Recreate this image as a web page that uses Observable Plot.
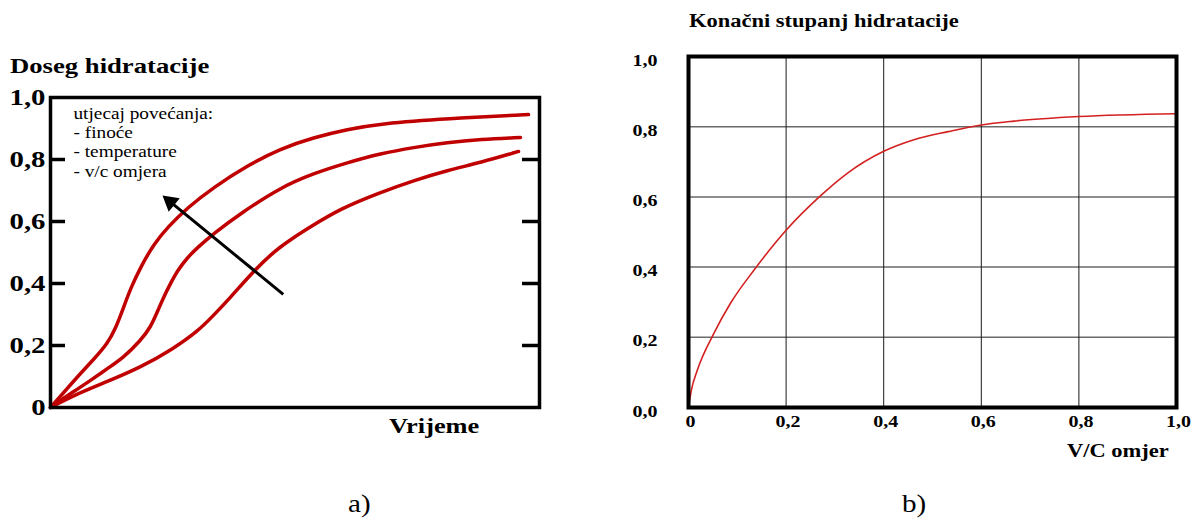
<!DOCTYPE html>
<html>
<head>
<meta charset="utf-8">
<script src="https://cdn.jsdelivr.net/npm/d3@7"></script>
<script src="https://cdn.jsdelivr.net/npm/@observablehq/plot@0.6"></script>
<style>
  html, body { margin: 0; padding: 0; background: #fff; }
  #root { position: relative; width: 1191px; height: 520px; overflow: hidden; }
  #root > svg, #root > div { position: absolute; top: 0; }
</style>
</head>
<body>
<div id="root"></div>
<script>
// ---------- chart a) : Doseg hidratacije vs Vrijeme ----------
const fastT = [0, 3.07, 6.13, 9.0, 11.66, 13.29, 14.72, 16.36, 18.4, 21.06, 23.93, 28.02, 33.33, 40.29, 47.03, 53.78, 60.74, 67.48, 81.19, 97.75];
const fastV = [0, 0.055, 0.11, 0.158, 0.206, 0.255, 0.313, 0.384, 0.452, 0.526, 0.581, 0.645, 0.71, 0.781, 0.835, 0.871, 0.897, 0.916, 0.932, 0.945];
const midT  = [0, 2.04, 5.11, 8.18, 11.66, 14.93, 18.4, 20.45, 21.88, 23.11, 24.54, 25.97, 28.02, 30.06, 33.33, 38.85, 47.03, 53.78, 60.74, 67.48, 74.23, 81.19, 87.93, 96.11];
const midV  = [0, 0.023, 0.055, 0.087, 0.126, 0.161, 0.216, 0.258, 0.31, 0.355, 0.40, 0.442, 0.484, 0.516, 0.561, 0.626, 0.71, 0.755, 0.79, 0.819, 0.839, 0.855, 0.865, 0.871];
const slowT = [0, 4.70, 11.66, 18.4, 25.15, 30.06, 33.33, 36.81, 40.9, 45.6, 49.69, 52.56, 59.3, 67.48, 74.23, 81.19, 87.93, 95.71];
const slowV = [0, 0.039, 0.084, 0.129, 0.19, 0.245, 0.297, 0.355, 0.429, 0.503, 0.548, 0.577, 0.642, 0.694, 0.732, 0.765, 0.79, 0.826];
const yTicksA = [0, 0.2, 0.4, 0.6, 0.8, 1.0];
const yTickLabelsA = ["0", "0,2", "0,4", "0,6", "0,8", "1,0"];
const innerTicksA = [0.2, 0.4, 0.6, 0.8];
const arrowTail = {t: 47.6, v: 0.365};
const arrowTip = {t: 22.9, v: 0.684};
const noteLinesA = ["utjecaj povećanja:", "- finoće", "- temperature", "- v/c omjera"];
const noteAt = {t: 4.7, v: 0.858};
const titleA = "Doseg hidratacije";
const xLabelA = "Vrijeme";

// ---------- chart b) : Konačni stupanj hidratacije vs V/C omjer ----------
const vcB  = [0, 0.006, 0.018, 0.052, 0.086, 0.134, 0.2, 0.268, 0.326, 0.4, 0.462, 0.532, 0.6, 0.667, 0.8, 1.0];
const degB = [0, 0.05, 0.106, 0.211, 0.297, 0.391, 0.505, 0.6, 0.668, 0.73, 0.763, 0.786, 0.805, 0.816, 0.829, 0.837];
const xTicksB = [0, 0.2, 0.4, 0.6, 0.8, 1.0];
const xTickLabelsB = ["0", "0,2", "0,4", "0,6", "0,8", "1,0"];
const yTicksB = [0, 0.2, 0.4, 0.6, 0.8, 1.0];
const yTickLabelsB = ["0,0", "0,2", "0,4", "0,6", "0,8", "1,0"];
const gridB = [0.2, 0.4, 0.6, 0.8];
const titleB = "Konačni stupanj hidratacije";
const xLabelB = "V/C omjer";
const panelLabels = ["a)", "b)"];

const SERIF = '"Liberation Serif", "Times New Roman", Times, serif';
const root = document.getElementById("root");

function stretch(nodes, s) {
  nodes.forEach(t => t.setAttribute("transform", (t.getAttribute("transform") || "") + ` scale(${s},1)`));
}

// ---- chart a)
const seriesA = [["fast", fastT, fastV], ["mid", midT, midV], ["slow", slowT, slowV]];
const tableA = seriesA.flatMap(([s, T, V]) => T.map((t, i) => ({s, t, v: V[i]})));

const WA = 560, HA = 520, mlA = 50, mrA = 21, mtA = 97, mbA = 113;
const fwA = WA - mlA - mrA, fhA = HA - mtA - mbA;
const xDomA = [0, 100];

// arrow: shaft + filled triangular head (oriented along the shaft)
const kx = fwA / (xDomA[1] - xDomA[0]), ky = fhA;
const dxPx = (arrowTip.t - arrowTail.t) * kx, dyPx = -(arrowTip.v - arrowTail.v) * ky;
const lenPx = Math.hypot(dxPx, dyPx);
const headR = 6.5;
const headBack = 1.555 * headR / lenPx;
const headCenter = {t: arrowTip.t + (arrowTail.t - arrowTip.t) * headBack, v: arrowTip.v + (arrowTail.v - arrowTip.v) * headBack};
const headRotate = Math.atan2(dxPx, -dyPx) * 180 / Math.PI;
const shaft = [{t1: arrowTail.t, v1: arrowTail.v, t2: headCenter.t, v2: headCenter.v}];
const noteA = [{t: noteAt.t, v: noteAt.v, text: noteLinesA.join("\n")}];

const plotA = Plot.plot({
  width: WA, height: HA,
  marginLeft: mlA, marginRight: mrA, marginTop: mtA, marginBottom: mbA,
  x: {domain: xDomA, axis: null},
  y: {domain: [0, 1], axis: null},
  style: {fontFamily: SERIF, background: "transparent", overflow: "visible", color: "#000"},
  marks: [
    Plot.line(tableA, {x: "t", y: "v", z: "s", stroke: "#c00000", strokeWidth: 3.5, curve: "basis"}),
    Plot.tickY(innerTicksA, {y: d => d, insetRight: fwA - 15, stroke: "#000", strokeWidth: 3.5}),
    Plot.tickY(innerTicksA, {y: d => d, insetLeft: fwA - 17, stroke: "#000", strokeWidth: 3.5}),
    Plot.link(shaft, {x1: "t1", y1: "v1", x2: "t2", y2: "v2", stroke: "#000", strokeWidth: 3}),
    Plot.dot([headCenter], {x: "t", y: "v", symbol: "triangle", r: headR, fill: "#000", stroke: "none", rotate: headRotate}),
    Plot.text(noteA, {x: "t", y: "v", text: "text", textAnchor: "start", lineAnchor: "middle", lineHeight: 1.17, fontSize: 16.5, fill: "#000"}),
    Plot.axisY({ticks: yTicksA, tickFormat: d => yTickLabelsA[yTicksA.indexOf(d)], tickSize: 0, tickPadding: 5,
                fontSize: 23, fontWeight: "bold", label: null}),
    Plot.frame({stroke: "#000", strokeWidth: 3.5})
  ]
});
stretch(plotA.querySelectorAll('g[aria-label="y-axis tick label"] text'), 1.25);
stretch(plotA.querySelectorAll('g[aria-label="text"] text'), 1.17);
plotA.style.left = "0px";
root.appendChild(plotA);

// ---- chart b)
const tableB = vcB.map((x, i) => ({vc: x, deg: degB[i]}));
const WB = 591, HB = 520, mlB = 88, mrB = 15, mtB = 56, mbB = 113;

const plotB = Plot.plot({
  width: WB, height: HB,
  marginLeft: mlB, marginRight: mrB, marginTop: mtB, marginBottom: mbB,
  x: {domain: [0, 1], axis: null},
  y: {domain: [0, 1], axis: null},
  style: {fontFamily: SERIF, background: "transparent", overflow: "visible", color: "#000"},
  marks: [
    Plot.gridY({ticks: gridB, stroke: "#6a6a6a", strokeOpacity: 1, strokeWidth: 1.5}),
    Plot.gridX({ticks: gridB, stroke: "#1a1a1a", strokeOpacity: 1, strokeWidth: 1}),
    Plot.line(tableB, {x: "vc", y: "deg", stroke: "#d42020", strokeWidth: 1.6, curve: "monotone-x"}),
    Plot.axisY({ticks: yTicksB, tickFormat: d => yTickLabelsB[yTicksB.indexOf(d)], tickSize: 0, tickPadding: 31,
                fontSize: 16, fontWeight: "bold", dy: 4, label: null}),
    Plot.axisX({ticks: xTicksB, tickFormat: d => xTickLabelsB[xTicksB.indexOf(d)], tickSize: 0, tickPadding: 8,
                fontSize: 16, fontWeight: "bold", dx: 2, label: null}),
    Plot.frame({stroke: "#000", strokeWidth: 4})
  ]
});
stretch(plotB.querySelectorAll('g[aria-label="y-axis tick label"] text, g[aria-label="x-axis tick label"] text'), 1.25);
plotB.style.left = "600px";
root.appendChild(plotB);

// ---- titles, axis names and panel labels (overlay)
const NS = "http://www.w3.org/2000/svg";
const overlay = document.createElementNS(NS, "svg");
overlay.setAttribute("width", 1191);
overlay.setAttribute("height", 520);
overlay.style.left = "0px";
overlay.style.pointerEvents = "none";
overlay.style.fontFamily = SERIF;
const labels = [
  {text: titleA, x: 10, y: 73, size: 21, weight: "bold", sx: 1.27},
  {text: xLabelA, x: 389, y: 433, size: 22, weight: "bold", sx: 1.2},
  {text: titleB, x: 689, y: 27, size: 18, weight: "bold", sx: 1.25},
  {text: xLabelB, x: 1067, y: 457, size: 18, weight: "bold", sx: 1.25},
  {text: panelLabels[0], x: 348, y: 512, size: 26, weight: "normal", sx: 1.12},
  {text: panelLabels[1], x: 902, y: 512, size: 26, weight: "normal", sx: 1.12}
];
for (const l of labels) {
  const t = document.createElementNS(NS, "text");
  t.setAttribute("transform", `translate(${l.x},${l.y}) scale(${l.sx},1)`);
  t.setAttribute("font-size", l.size);
  t.setAttribute("font-weight", l.weight);
  t.setAttribute("fill", "#000");
  t.textContent = l.text;
  overlay.appendChild(t);
}
root.appendChild(overlay);
</script>
</body>
</html>
